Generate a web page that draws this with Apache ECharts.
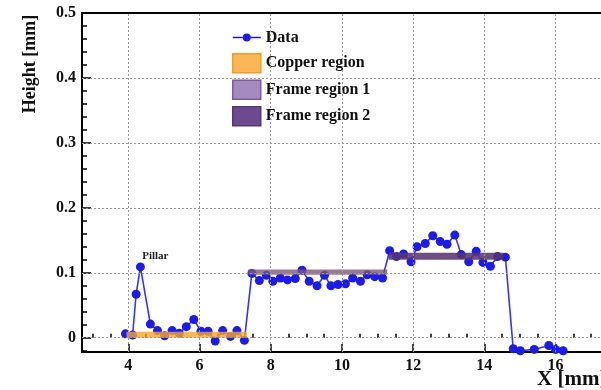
<!DOCTYPE html>
<html>
<head>
<meta charset="utf-8">
<script src="https://cdn.jsdelivr.net/npm/echarts@6/dist/echarts.min.js"></script>
<style>
html,body{margin:0;padding:0;background:#fff;overflow:hidden;width:601px;height:390px;}
#c{width:640px;height:390px;}
</style>
</head>
<body>
<div id="c"></div>
<script>
// ---- data ----
const xData = [3.92,4.12,4.22,4.34,4.62,4.82,5.02,5.23,5.43,5.63,5.84,6.04,6.24,6.44,6.65,6.87,7.05,7.26,7.47,7.68,7.88,8.06,8.27,8.47,8.69,8.88,9.08,9.30,9.51,9.69,9.89,10.10,10.30,10.52,10.71,10.92,11.14,11.34,11.53,11.73,11.94,12.11,12.34,12.55,12.76,12.95,13.17,13.35,13.56,13.77,13.96,14.17,14.37,14.59,14.81,15.01,15.40,15.81,16.00,16.21];
const yData = [0.006,0.004,0.067,0.109,0.021,0.011,0.003,0.011,0.007,0.017,0.028,0.010,0.010,-0.005,0.011,0.002,0.011,-0.004,0.099,0.088,0.096,0.087,0.092,0.089,0.091,0.104,0.087,0.080,0.096,0.080,0.082,0.083,0.092,0.087,0.097,0.094,0.092,0.134,0.125,0.129,0.117,0.140,0.145,0.157,0.148,0.144,0.158,0.128,0.117,0.133,0.116,0.110,0.125,0.124,-0.017,-0.020,-0.018,-0.012,-0.018,-0.020];
// regions: [x0, x1, y0, y1]
const copperRegion = [3.95, 7.33, 0.0, 0.009];
const frameRegion1 = [7.37, 11.27, 0.097, 0.105];
const frameRegion2 = [11.31, 14.53, 0.120, 0.131];
const seriesNames = ['Data','Copper region','Frame region 1','Frame region 2'];
const pillarNote = {text:'Pillar', x:4.76, y:0.126};
// axes
const xMin = 2.7, xMax = 17.5;
const yMin = -0.022, yMax = 0.5;
const xMajorTicks = [4,6,8,10,12,14,16];
const xMinorTicks = [3,3.5,4.5,5,5.5,6.5,7,7.5,8.5,9,9.5,10.5,11,11.5,12.5,13,13.5,14.5,15,15.5,16.5,17];
const yMajorTicks = [0,0.1,0.2,0.3,0.4,0.5];
const yMinorTicks = [-0.02,0.02,0.04,0.06,0.08,0.12,0.14,0.16,0.18,0.22,0.24,0.26,0.28,0.32,0.34,0.36,0.38,0.42,0.44,0.46,0.48];
const xGridLines = [4,6,8,10,12,14,16];
const yGridLines = [0,0.1,0.2,0.3,0.4];
const xTitle = 'X [mm]';
const yTitle = 'Height [mm]';

const FONT = '"Liberation Serif","Times New Roman",serif';
const chart = echarts.init(document.getElementById('c'), null, {renderer:'canvas'});

function rectRender(params, api){
  const p0 = api.coord([api.value(0), api.value(3)]);
  const p1 = api.coord([api.value(1), api.value(2)]);
  return {type:'rect', shape:{x:p0[0], y:p0[1], width:p1[0]-p0[0], height:p1[1]-p0[1]}, style: api.style()};
}
const regionColors = [
  {plot:'rgba(247,166,45,0.8)', fill:'#fbb655', border:'#f09a2a'},
  {plot:'rgba(125,88,120,0.8)', fill:'#a58bbd', border:'#7b5c9c'},
  {plot:'rgba(88,55,110,0.88)', fill:'#6b4b8e', border:'#553679'}
];
const regions = [copperRegion, frameRegion1, frameRegion2];
// legend icon for data: line with a dot (tiny corner squares keep the box size)
const dataIcon = 'path://M0,0h0.01v0.01h-0.01z M27.99,18.99h0.01v0.01h-0.01z M0,8.8h10v1.4h-10z M18,8.8h10v1.4h-10z M10,9.5a4,4 0 1,0 8,0a4,4 0 1,0 -8,0z';

const axisCommon = {
  axisLine:{show:true, onZero:false, lineStyle:{color:'#000', width:2}},
  splitLine:{show:false}
};

const option = {
  animation:false,
  backgroundColor:'#fff',
  grid:{left:82, top:13, width:527, height:339, show:true, borderColor:'#000', borderWidth:2, containLabel:false, outerBoundsMode:'none'},
  legend:{
    left:232, top:28, padding:0, orient:'vertical', itemWidth:28, itemHeight:19, itemGap:6,
    textStyle:{fontFamily:FONT, fontWeight:'bold', fontSize:16, color:'#111', lineHeight:19},
    data:[
      {name:seriesNames[0], icon:dataIcon, itemStyle:{color:'#1c1ce8'}},
      {name:seriesNames[1], icon:'rect', itemStyle:{color:regionColors[0].fill, borderColor:regionColors[0].border, borderWidth:1.5}},
      {name:seriesNames[2], icon:'rect', itemStyle:{color:regionColors[1].fill, borderColor:regionColors[1].border, borderWidth:1.5}},
      {name:seriesNames[3], icon:'rect', itemStyle:{color:regionColors[2].fill, borderColor:regionColors[2].border, borderWidth:1.5}}
    ]
  },
  xAxis:[
    Object.assign({type:'value', min:xMin, max:xMax, position:'bottom',
      axisTick:{show:true, inside:true, length:8, customValues:xMajorTicks, lineStyle:{color:'#000', width:1.5}},
      axisLabel:{customValues:xMajorTicks, margin:6, fontFamily:FONT, fontWeight:'bold', fontSize:16, color:'#111'}
    }, axisCommon),
    {type:'value', min:xMin, max:xMax, position:'bottom', axisLine:{show:false}, splitLine:{show:false},
      axisTick:{show:true, inside:true, length:4, customValues:xMinorTicks, lineStyle:{color:'#000', width:1.5}},
      axisLabel:{show:false}}
  ],
  yAxis:[
    Object.assign({type:'value', min:yMin, max:yMax, position:'left',
      axisTick:{show:true, inside:true, length:9, customValues:yMajorTicks, lineStyle:{color:'#000', width:1.5}},
      axisLabel:{customValues:yMajorTicks, margin:6, fontFamily:FONT, fontWeight:'bold', fontSize:16, color:'#111'}
    }, axisCommon),
    {type:'value', min:yMin, max:yMax, position:'left', axisLine:{show:false}, splitLine:{show:false},
      axisTick:{show:true, inside:true, length:5, customValues:yMinorTicks, lineStyle:{color:'#000', width:1.5}},
      axisLabel:{show:false}}
  ],
  graphic:[
    {type:'text', x:30, y:64, rotation:Math.PI/2, style:{text:yTitle, fontFamily:FONT, fontWeight:'bold', fontSize:18, fill:'#111', textAlign:'center', textVerticalAlign:'middle'}},
    {type:'text', x:537, y:380, style:{text:xTitle, fontFamily:FONT, fontWeight:'bold', fontSize:21, fill:'#111', textAlign:'left', textVerticalAlign:'middle'}}
  ],
  series:[
    {
      name:'grid', type:'line', data:[], silent:true, z:1,
      markLine:{silent:true, symbol:['none','none'], label:{show:false}, animation:false,
        lineStyle:{color:'#9a9a9a', type:[2,2], width:1},
        data: xGridLines.map(v=>({xAxis:v})).concat(yGridLines.map(v=>({yAxis:v})))}
    },
    {
      name:seriesNames[0], type:'line', xAxisIndex:0, yAxisIndex:0, z:3,
      data:xData.map((x,i)=>[x,yData[i]]),
      symbol:'circle', symbolSize:9, showSymbol:true,
      lineStyle:{color:'#3535f5', width:1.6},
      itemStyle:{color:'#1c1ce8'},
      markPoint:{symbol:'circle', symbolSize:0, silent:true,
        label:{show:true, formatter:pillarNote.text, position:'inside', fontFamily:FONT, fontWeight:'bold', fontSize:11, color:'#222'},
        data:[{coord:[pillarNote.x, pillarNote.y]}]}
    }
  ].concat(regions.map((r,i)=>({
      name:seriesNames[i+1], type:'custom', z:4, renderItem:rectRender,
      encode:{x:[0,1], y:[2,3]},
      itemStyle:{color:regionColors[i].plot},
      data:[r]
  })))
};
chart.setOption(option);
</script>
</body>
</html>
